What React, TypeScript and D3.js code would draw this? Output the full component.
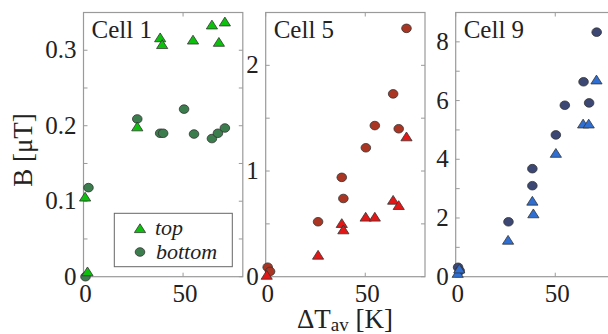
import React from 'react';
import * as d3 from 'd3';

// ΔT_av [K] and B [µT] per cell
const cell1TopX = [0.8, 2, 27, 38.5, 39.5, 55, 64.5, 68, 71];
const cell1TopB = [0.105, 0.006, 0.198, 0.316, 0.307, 0.313, 0.333, 0.31, 0.337];
const cell1BottomX = [2.5, 1, 27, 38.5, 40, 50.5, 55.5, 64.5, 67.5, 71];
const cell1BottomB = [0.118, 0, 0.209, 0.19, 0.19, 0.222, 0.189, 0.183, 0.19, 0.197];

const cell5TopX = [0.5, 26.3, 38.2, 39, 50.2, 54.8, 64, 66.8, 70.7];
const cell5TopB = [0.01, 0.2, 0.5, 0.44, 0.56, 0.56, 0.72, 0.67, 1.32];
const cell5BottomX = [1, 2.2, 26.3, 38.2, 39, 50.3, 54.8, 64, 66.8, 70.7];
const cell5BottomB = [0.09, 0.05, 0.52, 0.94, 0.74, 1.22, 1.43, 1.73, 1.4, 2.35];

const cell9TopX = [1, 1.8, 26.3, 38.5, 39, 50.3, 64, 66.8, 70.7];
const cell9TopB = [0.1, 0.25, 1.23, 2.56, 2.13, 4.19, 5.19, 5.19, 6.69];
const cell9BottomX = [1.2, 2, 26.5, 38.5, 38.5, 50.3, 54.8, 64.2, 67, 70.8];
const cell9BottomB = [0.32, 0.2, 1.87, 3.68, 3.1, 4.83, 5.84, 6.64, 5.92, 8.33];

const cellNames = ['Cell 1', 'Cell 5', 'Cell 9'];
const yMax = [0.35, 2.5, 9];
const yTickLabels = [[0, 0.1, 0.2, 0.3], [0, 1, 2], [0, 2, 4, 6, 8]];
const yMinorStep = [0.05, 0.5, 1];
const xTickLabels = [0, 50];
const legendLabels = ['top', 'bottom'];

const topColors = ['#0cc10c', '#e51616', '#2f6fd3'];
const bottomColors = ['#3b7d4c', '#aa3523', '#3c4873'];

const cells = [
	{ topX: cell1TopX, topB: cell1TopB, botX: cell1BottomX, botB: cell1BottomB },
	{ topX: cell5TopX, topB: cell5TopB, botX: cell5BottomX, botB: cell5BottomB },
	{ topX: cell9TopX, topB: cell9TopB, botX: cell9BottomX, botB: cell9BottomB },
];

const W = 608;
const H = 334;
const panelLeft = [83.5, 265.7, 455.7];
const panelW = 159.3;
const top = 12.5;
const bottom = 276.7;
const font = 'Liberation Serif';
const boxColor = '#9a9a9a';
const textColor = '#222';

const tri = (cx: number, cy: number) =>
	`M${cx},${cy - 5.2}L${cx + 5.6},${cy + 3.6}L${cx - 5.6},${cy + 3.6}Z`;

const Txt = ({ x, y, size, anchor = 'start', italic = false, children }: any) => (
	<text
		x={x}
		y={y}
		fontFamily={font}
		fontSize={size}
		fontStyle={italic ? 'italic' : 'normal'}
		textAnchor={anchor}
		fill={textColor}
	>
		{children}
	</text>
);

const Panel = ({ i }: { i: number }) => {
	const c = cells[i];
	const left = panelLeft[i];
	const x = d3.scaleLinear().domain([0, 80]).range([left, left + panelW]);
	const y = d3.scaleLinear().domain([0, yMax[i]]).range([bottom, top]);
	const minor = d3.range(0, yMax[i] + 1e-9, yMinorStep[i]);
	const tl = 4;
	return (
		<g>
			<rect x={left} y={top} width={panelW} height={bottom - top} fill="#fff" stroke={boxColor} strokeWidth={1.2} />
			{minor.map((t) => (
				<g key={'m' + t} stroke={boxColor} strokeWidth={1}>
					<line x1={left} x2={left + tl} y1={y(t)} y2={y(t)} />
					<line x1={left + panelW} x2={left + panelW - tl} y1={y(t)} y2={y(t)} />
				</g>
			))}
			{xTickLabels.map((t) => (
				<g key={'x' + t} stroke={boxColor} strokeWidth={1}>
					<line x1={x(t)} x2={x(t)} y1={bottom} y2={bottom - tl} />
					<line x1={x(t)} x2={x(t)} y1={top} y2={top + tl} />
				</g>
			))}
			{yTickLabels[i].map((t) => (
				<Txt key={'yl' + t} x={left - 7} y={y(t) + 8} size={25} anchor="end">
					{t}
				</Txt>
			))}
			{xTickLabels.map((t) => (
				<Txt key={'xl' + t} x={x(t) + 2} y={bottom + 25} size={25} anchor="middle">
					{t}
				</Txt>
			))}
			<Txt x={left + 8} y={top + 25} size={25}>
				{cellNames[i]}
			</Txt>
			{c.botX.map((v, k) => (
				<ellipse
					key={'b' + k}
					cx={x(v)}
					cy={y(c.botB[k])}
					rx={4.8}
					ry={4.3}
					fill={bottomColors[i]}
					stroke="#333"
					strokeWidth={0.8}
				/>
			))}
			{c.topX.map((v, k) => (
				<path key={'t' + k} d={tri(x(v), y(c.topB[k]))} fill={topColors[i]} stroke="#333" strokeWidth={0.8} />
			))}
		</g>
	);
};

export default function App() {
	return (
		<svg width={W} height={H} style={{ position: 'absolute', left: 0, top: 0, background: '#fff' }}>
			{[0, 1, 2].map((i) => (
				<Panel key={i} i={i} />
			))}
			{/* legend in cell 1 */}
			<rect x={114.3} y={213.3} width={118} height={53.4} fill="#fff" stroke="#666" strokeWidth={1} />
			<path d={tri(140, 229)} fill={topColors[0]} stroke="#333" strokeWidth={0.8} />
			<ellipse cx={140} cy={252} rx={4.8} ry={4.3} fill={bottomColors[0]} stroke="#333" strokeWidth={0.8} />
			<Txt x={155} y={235} size={22} italic>
				{legendLabels[0]}
			</Txt>
			<Txt x={156} y={259} size={22} italic>
				{legendLabels[1]}
			</Txt>
			{/* axis titles */}
			<text
				transform="translate(32,150) rotate(-90)"
				fontFamily={font}
				fontSize={27}
				textAnchor="middle"
				fill={textColor}
			>
				B [μT]
			</text>
			<text x={345} y={328} fontFamily={font} fontSize={27} textAnchor="middle" fill={textColor}>
				ΔT
				<tspan fontSize={19} dy={3}>av</tspan>
				<tspan dy={-3}> [K]</tspan>
			</text>
		</svg>
	);
}
